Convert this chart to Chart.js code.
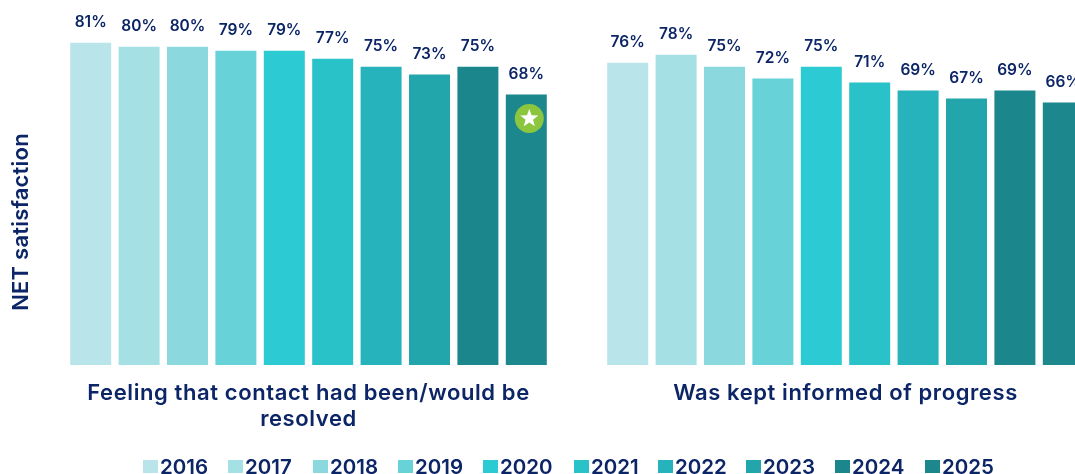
<!DOCTYPE html>
<html>
<head>
<meta charset="utf-8">
<title>NET satisfaction</title>
<script src="https://cdn.jsdelivr.net/npm/chart.js@4"></script>
<style>
  html, body { margin: 0; padding: 0; background: #fff; overflow: hidden; width: 1075px; height: 474px; }
  #wrap { position: relative; width: 1075px; height: 474px; overflow: hidden; }
  #chart { position: absolute; left: 0; top: 0; }
  #legend { position: absolute; left: 143px; top: 453px; display: flex; color: #0b2566; font: 600 20.5px Inter, sans-serif; line-height: 27px; white-space: nowrap; }
  #legend span.item { position: absolute; top: 0; display: flex; align-items: center; }
  #legend i { display: block; width: 15px; height: 13px; margin-right: 2px; }
</style>
</head>
<body>
<div id="wrap">
  <canvas id="chart" width="1136" height="474"></canvas>
  <div id="legend"></div>
</div>
<script>
// NET satisfaction by year, two survey statements
const categories = [["Feeling that contact had been/would be", "resolved"], "Was kept informed of progress"];
const years = ["2016", "2017", "2018", "2019", "2020", "2021", "2022", "2023", "2024", "2025"];
const resolved = [81, 80, 80, 79, 79, 77, 75, 73, 75, 68];
const informed = [76, 78, 75, 72, 75, 71, 69, 67, 69, 66];
const colors = ["#b9e5ea", "#a5e1e4", "#8bd9de", "#67d2d8", "#2ccbd3", "#2ac2c9", "#27b3bc", "#22a5ab", "#1b878d", "#1c888e"];
const legendOffsets = [0, 85, 170, 255, 340, 431, 515, 603, 692, 782];

const NAVY = "#0b2566";
const FONT = "Inter, sans-serif";

// tick labels run a little wider than the font's default spacing
const wideTicks = {
  id: "wideTicks",
  beforeDraw(chart) {
    chart.ctx.letterSpacing = "0.6px";
  },
};

// percentage above every bar
const valueLabels = {
  id: "valueLabels",
  afterDatasetsDraw(chart) {
    const ctx = chart.ctx;
    ctx.save();
    ctx.letterSpacing = "0px";
    ctx.font = `600 15.5px ${FONT}`;
    ctx.fillStyle = NAVY;
    ctx.textAlign = "center";
    ctx.textBaseline = "middle";
    chart.data.datasets.forEach((ds, i) => {
      chart.getDatasetMeta(i).data.forEach((bar, j) => {
        ctx.fillText(ds.data[j] + "%", bar.x, bar.y - 20.5);
      });
    });
    ctx.restore();
  },
};

// green star badge on the latest bar of the first group
const starBadge = {
  id: "starBadge",
  afterDatasetsDraw(chart) {
    const bar = chart.getDatasetMeta(years.length - 1).data[0];
    const cx = bar.x + 3, cy = bar.y + 24;
    const ctx = chart.ctx;
    ctx.save();
    ctx.fillStyle = "#8cc63f";
    ctx.beginPath();
    ctx.arc(cx, cy, 14.5, 0, Math.PI * 2);
    ctx.fill();
    ctx.fillStyle = "#fff";
    ctx.beginPath();
    for (let i = 0; i < 10; i++) {
      const r = i % 2 ? 3.9 : 9.5;
      const a = -Math.PI / 2 + i * Math.PI / 5;
      ctx.lineTo(cx + r * Math.cos(a), cy + r * Math.sin(a));
    }
    ctx.closePath();
    ctx.fill();
    ctx.restore();
  },
};

// y axis caption sits lower than the plot centre, so it is placed by hand
const yCaption = {
  id: "yCaption",
  afterDraw(chart) {
    const ctx = chart.ctx;
    ctx.save();
    ctx.letterSpacing = "0.2px";
    ctx.translate(21, 222);
    ctx.rotate(-Math.PI / 2);
    ctx.font = `600 22px ${FONT}`;
    ctx.fillStyle = NAVY;
    ctx.textAlign = "center";
    ctx.textBaseline = "middle";
    ctx.fillText("NET satisfaction", 0, 0);
    ctx.restore();
  },
};

new Chart(document.getElementById("chart"), {
  type: "bar",
  data: {
    labels: categories,
    datasets: years.map((year, i) => ({
      label: year,
      data: [resolved[i], informed[i]],
      backgroundColor: colors[i],
      categoryPercentage: 0.9013,
      barPercentage: 0.847,
    })),
  },
  options: {
    responsive: false,
    animation: false,
    layout: { padding: { left: 40, right: 22, top: 7 } },
    plugins: { legend: { display: false }, tooltip: { enabled: false } },
    scales: {
      x: {
        grid: { display: false },
        border: { display: false },
        afterFit(scale) { scale.height = 109; },
        ticks: {
          maxRotation: 0,
          autoSkip: false,
          padding: 7,
          color: NAVY,
          font: { family: FONT, size: 22, weight: "600", lineHeight: 1.18 },
        },
      },
      y: { display: false, min: 0, max: 90 },
    },
  },
  plugins: [wideTicks, valueLabels, starBadge, yCaption],
});

// legend row under the chart
const legend = document.getElementById("legend");
years.forEach((year, i) => {
  const item = document.createElement("span");
  item.className = "item";
  item.style.left = legendOffsets[i] + "px";
  const box = document.createElement("i");
  box.style.background = colors[i];
  item.appendChild(box);
  item.appendChild(document.createTextNode(year));
  legend.appendChild(item);
});
</script>
</body>
</html>
